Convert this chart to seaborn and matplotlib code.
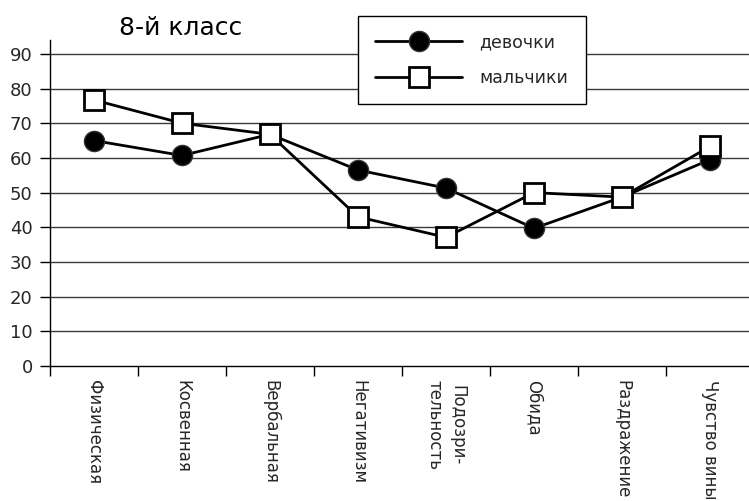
import numpy as np
import pandas as pd
import matplotlib
matplotlib.use("Agg")
import matplotlib.pyplot as plt
import seaborn as sns

# Aggression scale categories and mean scores per group
categories = ["Физическая", "Косвенная", "Вербальная", "Негативизм",
              "Подозри-\nтельность", "Обида", "Раздражение", "Чувство вины"]
girls = [65, 60.7, 66.8, 56.5, 51.3, 39.7, 48.7, 59.5]
boys = [76.7, 70, 66.8, 43, 37.1, 50, 48.7, 63.3]
series_names = ["девочки", "мальчики"]
title = "8-й класс"
y_ticks = [0, 10, 20, 30, 40, 50, 60, 70, 80, 90]

sns.set_theme(style="white")
plt.rcParams["font.family"] = ["DejaVu Sans"]

pos = np.arange(len(categories))
df = pd.DataFrame({
    "pos": np.concatenate([pos, pos]),
    "value": girls + boys,
    "group": [series_names[0]] * len(pos) + [series_names[1]] * len(pos),
})

fig = plt.figure(figsize=(7.49, 5.01), dpi=100)
ax = fig.add_axes([50 / 749, 135 / 501, 704 / 749, (366 - 40) / 501])

# horizontal gridlines
for v in y_ticks[1:]:
    ax.axhline(v, color="#3a3a3a", lw=1.0, zorder=0)

styles = {
    series_names[0]: dict(marker="o", markersize=14.5, markerfacecolor="black",
                          markeredgecolor="#333333", markeredgewidth=1.0),
    series_names[1]: dict(marker="s", markersize=14, markerfacecolor="white",
                          markeredgecolor="black", markeredgewidth=2.0),
}
for name in series_names:
    sub = df[df["group"] == name]
    sns.lineplot(data=sub, x="pos", y="value", ax=ax, color="black",
                 lw=2.0, label=name, zorder=3, **styles[name])

ax.set_xlim(-0.5, len(categories) - 0.5)
ax.set_ylim(0, 94)
ax.set_yticks(y_ticks)
ax.set_yticklabels([str(v) for v in y_ticks], fontsize=13)
ax.set_xticks(pos)
ax.set_xticklabels(categories, rotation=270, fontsize=12, ha="center",
                   va="top", linespacing=1.35)
ax.set_xticks(np.arange(-0.5, len(categories), 1), minor=True)
ax.tick_params(axis="x", which="major", length=0, pad=10)
ax.tick_params(axis="x", which="minor", length=7, width=1, color="black",
               direction="out", bottom=True)
ax.tick_params(axis="y", which="major", length=7.5, width=1, color="black",
               direction="out", left=True, pad=5)
ax.set_xlabel("")
ax.set_ylabel("")

for s in ["top", "right"]:
    ax.spines[s].set_visible(False)
for s in ["left", "bottom"]:
    ax.spines[s].set_color("black")
    ax.spines[s].set_linewidth(1.0)

leg = ax.legend(loc="upper left", bbox_to_anchor=(358 / 749, 1 - 16 / 501),
                bbox_transform=fig.transFigure, fontsize=12.5, frameon=True,
                fancybox=False, shadow=False, framealpha=1,
                edgecolor="black", handlelength=5.0, handletextpad=1.0,
                labelspacing=1.0, borderpad=1.0, borderaxespad=0)
leg.get_frame().set_linewidth(1.0)
leg.set_zorder(5)

fig.text(181 / 749, 1 - 28 / 501, title, fontsize=18, ha="center",
         va="center", color="black")

fig.savefig("out.png", dpi=100)
